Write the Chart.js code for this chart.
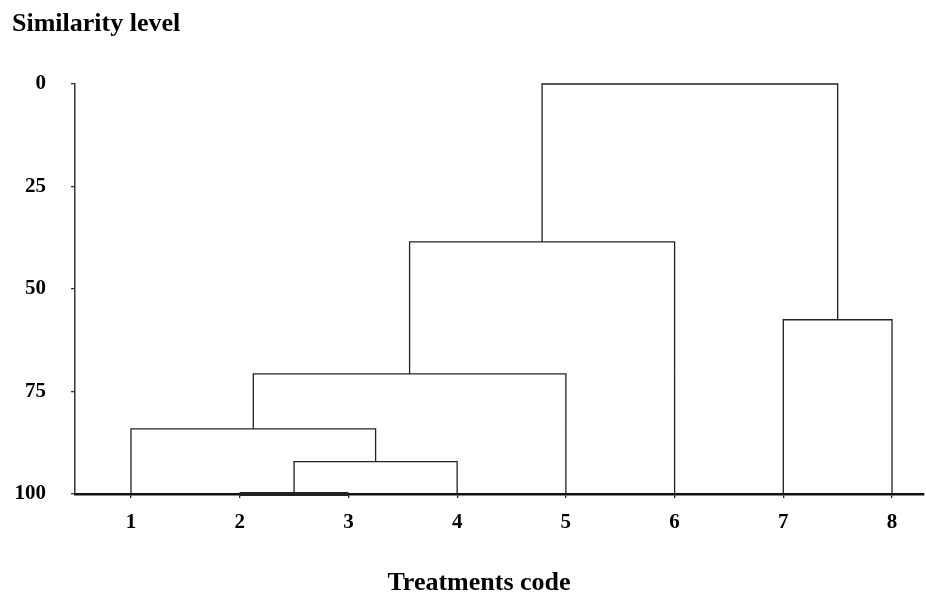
<!DOCTYPE html>
<html>
<head>
<meta charset="utf-8">
<script src="https://cdn.jsdelivr.net/npm/chart.js@4.4.0/dist/chart.umd.min.js"></script>
<style>
    html, body { margin: 0; padding: 0; background: #fff; }
    #chartContainer { width: 926px; height: 592px; }
</style>
</head>
<body>
<div id="chartContainer"><canvas id="myChart" width="926" height="592"></canvas></div>
<script>
// treatments along the x axis, in leaf order
var leafLabels = ["1", "2", "3", "4", "5", "6", "7", "8"];
// similarity level ticks
var levelTicks = [0, 25, 50, 75, 100];
// linkage: each merge joins two nodes (a leaf number, or "c" + index of an earlier merge)
var mergeLeft = [2, "c0", 1, "c2", "c3", 7, "c4"];
var mergeRight = [3, 4, "c1", 5, 6, 8, "c5"];
var mergeLevel = [100, 92.1, 84.1, 70.7, 38.5, 57.5, 0];

var serif = "'Liberation Serif', 'Times New Roman', serif";

document.addEventListener("DOMContentLoaded", function () {
    var nodeX = {};
    var nodeY = {};
    leafLabels.forEach(function (l, i) {
        nodeX[i + 1] = i + 1;
        nodeY[i + 1] = 100;
    });

    var datasets = mergeLevel.map(function (lvl, i) {
        var a = mergeLeft[i];
        var b = mergeRight[i];
        nodeX["c" + i] = (nodeX[a] + nodeX[b]) / 2;
        nodeY["c" + i] = lvl;
        return {
            data: [
                { x: nodeX[a], y: nodeY[a] },
                { x: nodeX[a], y: lvl },
                { x: nodeX[b], y: lvl },
                { x: nodeX[b], y: nodeY[b] },
            ],
            showLine: true,
            borderColor: "#222",
            borderWidth: lvl === 100 ? 4 : 1.3,
            pointRadius: 0,
            pointHoverRadius: 0,
            tension: 0,
            fill: false,
            clip: false,
        };
    });

    var titles = {
        id: "titles",
        afterDraw: function (chart) {
            var ctx = chart.ctx;
            ctx.save();
            ctx.fillStyle = "#000";
            ctx.font = "bold 26px " + serif;
            ctx.textBaseline = "alphabetic";
            ctx.textAlign = "left";
            ctx.fillText("Similarity level", 12, 31);
            ctx.textAlign = "center";
            ctx.fillText("Treatments code", 479, 590);
            ctx.restore();
        },
    };

    var ctx = document.getElementById("myChart").getContext("2d");
    // eslint-disable-next-line no-undef,no-new
    new Chart(ctx, {
        type: "scatter",
        data: { datasets: datasets },
        plugins: [titles],
        options: {
            responsive: false,
            animation: false,
            devicePixelRatio: 1,
            layout: { padding: { top: 84, right: 2, left: 0, bottom: 0 } },
            plugins: {
                legend: { display: false },
                tooltip: { enabled: false },
            },
            scales: {
                x: {
                    type: "linear",
                    min: 0.485,
                    max: 8.294,
                    afterBuildTicks: function (axis) {
                        axis.ticks = leafLabels.map(function (l, i) {
                            return { value: i + 1 };
                        });
                    },
                    afterFit: function (scale) {
                        scale.height = 98;
                    },
                    ticks: {
                        callback: function (v) {
                            return leafLabels[Math.round(v) - 1];
                        },
                        color: "#000",
                        font: { family: serif, size: 21, weight: "bold" },
                        padding: 12,
                        maxRotation: 0,
                        autoSkip: false,
                    },
                    grid: { drawOnChartArea: false, tickLength: 4, color: "#222", lineWidth: 1.3 },
                    border: { color: "#111", width: 2.5 },
                },
                y: {
                    type: "linear",
                    reverse: true,
                    min: 0,
                    max: 100,
                    afterBuildTicks: function (axis) {
                        axis.ticks = levelTicks.map(function (v) {
                            return { value: v };
                        });
                    },
                    afterFit: function (scale) {
                        scale.width = 75;
                    },
                    ticks: {
                        color: "#000",
                        font: { family: serif, size: 21, weight: "bold" },
                        padding: 25,
                    },
                    grid: { drawOnChartArea: false, tickLength: 4, color: "#333", lineWidth: 1.3 },
                    border: { color: "#333", width: 1.5 },
                },
            },
        },
    });
});
</script>
</body>
</html>
